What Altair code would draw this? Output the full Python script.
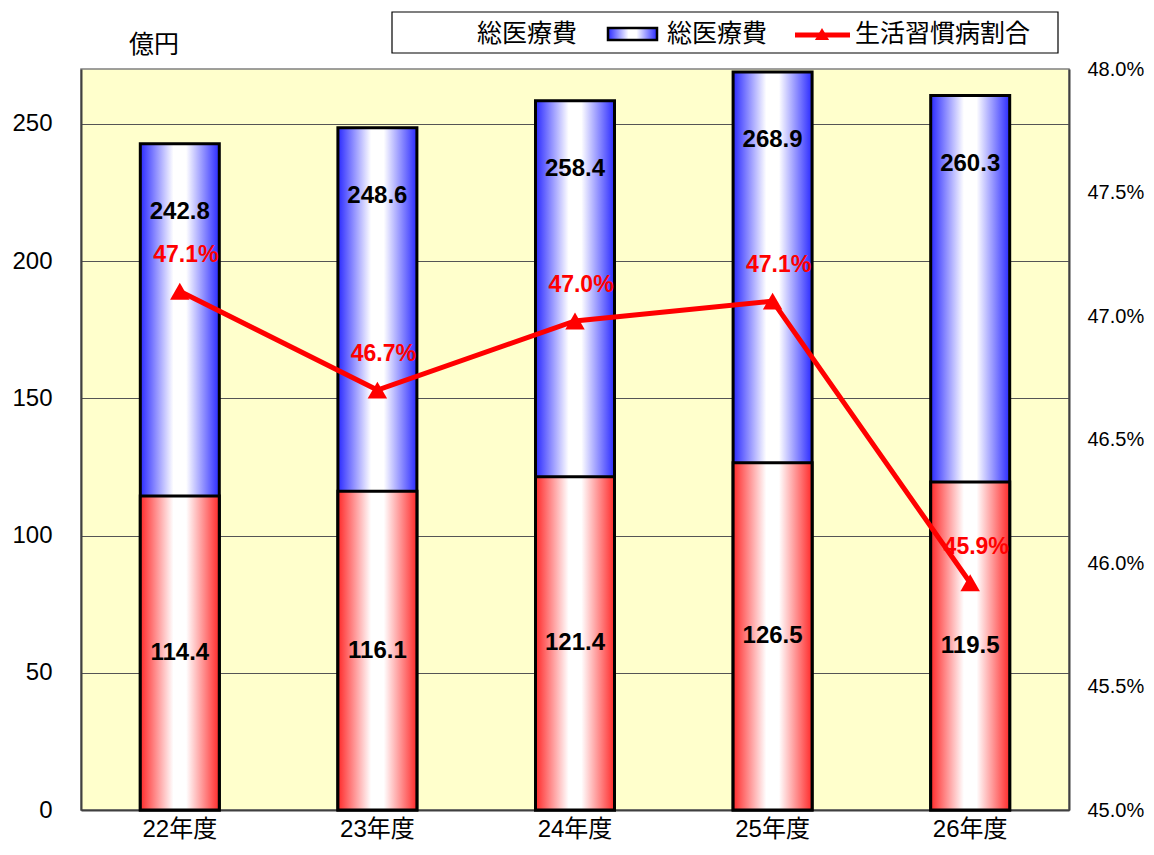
import altair as alt
import pandas as pd

# ---- data ----
years = ["22年度", "23年度", "24年度", "25年度", "26年度"]
total_cost = [242.8, 248.6, 258.4, 268.9, 260.3]          # 総医療費 (億円)
lifestyle_cost = [114.4, 116.1, 121.4, 126.5, 119.5]      # 生活習慣病 医療費 (億円)
lifestyle_ratio = [47.1, 46.7, 46.98, 47.06, 45.92]       # 生活習慣病割合 (%)

left_ticks = [0, 50, 100, 150, 200, 250]
right_ticks = [45.0, 45.5, 46.0, 46.5, 47.0, 47.5, 48.0]

legend_labels = ["総医療費", "総医療費", "生活習慣病割合"]
unit_label = "億円"

df = pd.DataFrame({
    "year": years,
    "total": total_cost,
    "life": lifestyle_cost,
    "ratio": lifestyle_ratio,
})
one = alt.Data(values=[{"k": 1}])

FONT = "Liberation Sans, Noto Sans CJK JP"
RED = "#ff0000"


def grad(edge):
    return alt.LinearGradient(
        gradient="linear",
        stops=[
            alt.GradientStop(color=edge, offset=0),
            alt.GradientStop(color="#ffffff", offset=0.42),
            alt.GradientStop(color="#ffffff", offset=0.58),
            alt.GradientStop(color=edge, offset=1),
        ],
        x1=0, x2=1, y1=0, y2=0,
    )


blue_grad = grad("#2a2aff")
red_grad = grad("#ff2a2a")

x_enc = alt.X(
    "year:N", sort=years, title=None,
    scale=alt.Scale(paddingInner=0, paddingOuter=0),
    axis=alt.Axis(labelAngle=0, labelFontSize=24, labelFont=FONT, labelColor="black",
                  labelPadding=7, ticks=False, domainColor="#404040", domainWidth=2),
)

y_left = alt.Y(
    "total:Q", title=None,
    scale=alt.Scale(domain=[0, 270], nice=False, zero=True),
    axis=alt.Axis(values=left_ticks, grid=True, gridColor="#555555", gridWidth=1,
                  ticks=False, labelFontSize=24, labelFont=FONT, labelColor="black",
                  labelPadding=29, domainColor="#404040", domainWidth=2),
)

base = alt.Chart(df)

blue_bars = base.mark_bar(fill=blue_grad, stroke="black", strokeWidth=3, size=79).encode(
    x=x_enc, y=y_left)
red_bars = base.mark_bar(fill=red_grad, stroke="black", strokeWidth=3, size=79).encode(
    x=x_enc, y=alt.Y("life:Q"))
total_text = base.mark_text(dy=68, fontSize=24, fontWeight="bold", font=FONT,
                            color="black").encode(
    x=x_enc, y=alt.Y("total:Q"), text=alt.Text("total:Q", format=".1f"))
life_text = base.transform_calculate(mid="datum.life / 2").mark_text(
    fontSize=24, fontWeight="bold", font=FONT, color="black").encode(
    x=x_enc, y=alt.Y("mid:Q"), text=alt.Text("life:Q", format=".1f"))

left = alt.layer(blue_bars, red_bars, total_text, life_text)

y_right = alt.Y(
    "ratio:Q", title=None,
    scale=alt.Scale(domain=[45, 48], nice=False, zero=False),
    axis=alt.Axis(orient="right", values=right_ticks,
                  labelExpr="format(datum.value, '.1f') + '%'",
                  grid=False, ticks=False, labelFontSize=20, labelFont=FONT,
                  labelColor="black", labelPadding=18, domainColor="#404040",
                  domainWidth=2),
)

line = base.mark_line(color=RED, strokeWidth=5).encode(x=x_enc, y=y_right)
pts = base.mark_point(shape="triangle-up", filled=True, size=380, color=RED,
                      opacity=1).encode(x=x_enc, y=alt.Y("ratio:Q"))
pct_text = base.transform_calculate(
    lab="format(datum.ratio, '.1f') + '%'").mark_text(
    dy=-36, dx=6, fontSize=23, fontWeight="bold", font=FONT, color=RED).encode(
    x=x_enc, y=alt.Y("ratio:Q"), text="lab:N")

right = alt.layer(line, pts, pct_text)

# ---- legend box (drawn above the plot) ----
lg = alt.Chart(one)
legend_box = lg.mark_rect(fill="white", stroke="black", strokeWidth=1.2).encode(
    x=alt.value(311), x2=alt.value(977), y=alt.value(-57), y2=alt.value(-16))
lg_t1 = lg.mark_text(align="left", baseline="middle", fontSize=25, font=FONT,
                     color="black").encode(
    x=alt.value(396), y=alt.value(-35), text=alt.value(legend_labels[0]))
lg_rect = lg.mark_rect(fill=blue_grad, stroke="black", strokeWidth=2.5).encode(
    x=alt.value(527), x2=alt.value(576), y=alt.value(-41), y2=alt.value(-29))
lg_t2 = lg.mark_text(align="left", baseline="middle", fontSize=25, font=FONT,
                     color="black").encode(
    x=alt.value(586), y=alt.value(-35), text=alt.value(legend_labels[1]))
lg_line = lg.mark_rule(color=RED, strokeWidth=5).encode(
    x=alt.value(714), x2=alt.value(769), y=alt.value(-34))
lg_tri = lg.mark_point(shape="triangle-up", filled=True, size=200, color=RED,
                       opacity=1).encode(x=alt.value(741), y=alt.value(-35))
lg_t3 = lg.mark_text(align="left", baseline="middle", fontSize=25, font=FONT,
                     color="black").encode(
    x=alt.value(774), y=alt.value(-35), text=alt.value(legend_labels[2]))
unit = lg.mark_text(align="center", baseline="middle", fontSize=25, font=FONT,
                    color="black").encode(
    x=alt.value(73), y=alt.value(-24), text=alt.value(unit_label))

legend = alt.layer(legend_box, lg_t1, lg_rect, lg_t2, lg_line, lg_tri, lg_t3, unit)

chart = alt.layer(left, right, legend).resolve_scale(y="independent").properties(
    width=988, height=741,
    padding={"left": 73, "top": 61, "right": 77, "bottom": 31},
    autosize=alt.AutoSizeParams(type="none"),
    background="white",
).configure_view(fill="#ffffcc", stroke="#808080", strokeWidth=1.5)

chart.save("out.html", embed_options={"renderer": "svg", "actions": False})
